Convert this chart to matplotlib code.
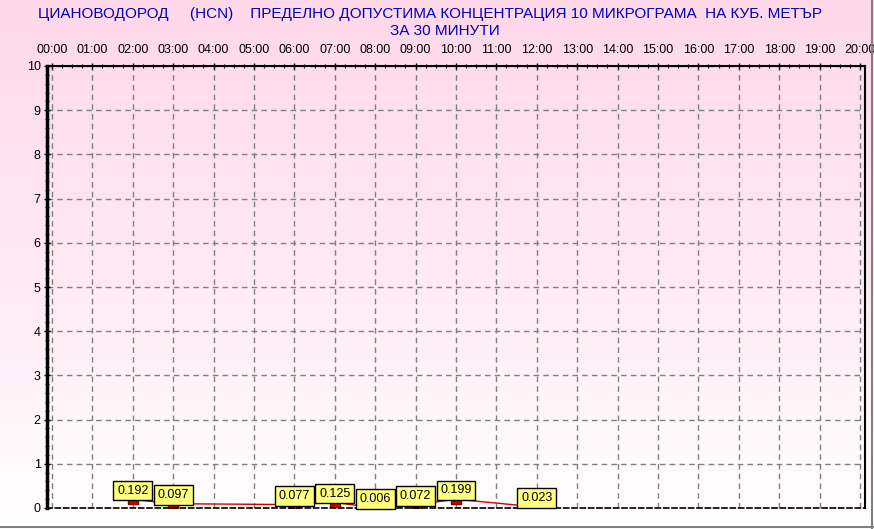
import numpy as np
import matplotlib.pyplot as plt
from matplotlib.colors import LinearSegmentedColormap
from matplotlib.lines import Line2D
from matplotlib.ticker import MultipleLocator
from matplotlib.transforms import offset_copy

plt.rcParams['font.family'] = ['Liberation Sans', 'DejaVu Sans']

# measured values, hour of day -> concentration
hours = [2, 3, 6, 7, 8, 9, 10, 12]
values = [0.192, 0.097, 0.077, 0.125, 0.006, 0.072, 0.199, 0.023]
hour_labels = ['%02d:00' % h for h in range(21)]
y_ticks = list(range(11))

title1 = 'ЦИАНОВОДОРОД     (HCN)    ПРЕДЕЛНО ДОПУСТИМА КОНЦЕНТРАЦИЯ 10 МИКРОГРАМА  НА КУБ. МЕТЪР'
title2 = 'ЗА 30 МИНУТИ'

W, H = 874, 529
fig = plt.figure(figsize=(W / 100, H / 100), dpi=100)

# pink to white background
bg = fig.add_axes([0, 0, 1, 1], zorder=0)
grad = np.linspace(0, 1, 256).reshape(-1, 1)
cmap = LinearSegmentedColormap.from_list('pk', ['#ffd8ea', '#ffe9f3', '#ffffff'])
bg.imshow(grad, aspect='auto', cmap=cmap, extent=[0, 1, 0, 1], origin='upper')
bg.set_xlim(0, 1)
bg.set_ylim(0, 1)
bg.axis('off')

# outer grey frame (bottom / right)
fig.add_artist(Line2D([0, 1], [1 - 526.5 / H] * 2, color='#808080', lw=1.5))
fig.add_artist(Line2D([1 - 2 / W] * 2, [0, 1], color='#808080', lw=1.5))

# main plot
ax = fig.add_axes([47 / W, 1 - 508 / H, (865 - 47) / W, (508 - 66) / H], zorder=1)
ax.set_facecolor('none')
px = 40.4
ax.set_xlim(-5 / px, 20 + 5 / px)
ax.set_ylim(0, 10)

ax.xaxis.tick_top()
ax.set_xticks(range(21))
ax.set_xticklabels(hour_labels)
ax.set_yticks(y_ticks)
ax.xaxis.set_minor_locator(MultipleLocator(0.25))
ax.yaxis.set_minor_locator(MultipleLocator(0.2))
ax.tick_params(axis='both', which='major', labelsize=9, direction='inout', length=5, width=1, colors='black')
ax.tick_params(axis='both', which='minor', direction='inout', length=3, width=0.8)
ax.tick_params(axis='x', pad=5)
ax.tick_params(axis='y', pad=2)

ax.grid(True, which='major', color='#808080', linestyle=(0, (4, 3)), linewidth=1)

for side in ['top', 'right']:
    ax.spines[side].set_linewidth(1.5)
ax.spines['left'].set_linewidth(2.5)
ax.spines['bottom'].set_linestyle((0, (3, 2)))
ax.spines['bottom'].set_linewidth(1.2)

# data line and markers (markers sit a little below the value, under the label)
rect = [(-1, -0.45), (1, -0.45), (1, 0.45), (-1, 0.45), (-1, -0.45)]
ax.plot(hours, values, color='#d00000', lw=1)
low = offset_copy(ax.transData, fig=fig, x=0, y=-2.5, units='dots')
ax.plot(hours, values, linestyle='none', marker=rect, markersize=6.5, transform=low,
        markerfacecolor='#d00000', markeredgecolor='#800000')

for h, v in zip(hours, values):
    ax.annotate('%.3f' % v, (h, v), xytext=(0, 2), textcoords='offset points',
                ha='center', va='bottom', fontsize=9, zorder=5,
                bbox=dict(boxstyle='square,pad=0.3', fc='#ffff80', ec='black', lw=1))

fig.text(430 / W, 1 - 14 / H, title1, ha='center', va='center', color='#0000c0', fontsize=11)
fig.text(445 / W, 1 - 31 / H, title2, ha='center', va='center', color='#0000c0', fontsize=11)

fig.savefig('out.png', dpi=100)
